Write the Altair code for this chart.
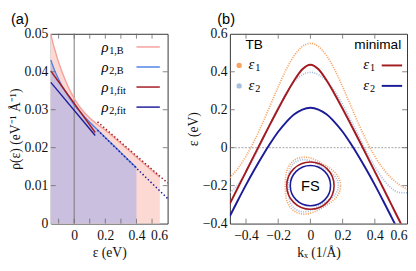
import math
import altair as alt
import pandas as pd

# ---------------- panel (a): density of states ----------------
eps_1B = [-0.15, -0.14, -0.13, -0.12, -0.11, -0.10, -0.08, -0.06, -0.04, -0.02, 0.00, 0.02,
          0.05, 0.10, 0.15, 0.20, 0.25, 0.30, 0.35, 0.40, 0.45, 0.50, 0.55]
rho_1B = [0.0500, 0.0482, 0.0466, 0.0452, 0.0438, 0.0425, 0.0402, 0.0381, 0.0362, 0.0345, 0.0330, 0.0317,
          0.0300, 0.0278, 0.0261, 0.0246, 0.0229, 0.0211, 0.0193, 0.0175, 0.0157, 0.0139, 0.0122]
eps_2B = [-0.15, -0.14, -0.13, -0.12, -0.11, -0.10, -0.08, -0.06, -0.04, -0.02, 0.00, 0.02,
          0.05, 0.10, 0.15, 0.20, 0.25, 0.30, 0.35, 0.40]
rho_2B = [0.0431, 0.0419, 0.0408, 0.0398, 0.0389, 0.0380, 0.0364, 0.0350, 0.0337, 0.0325, 0.0313, 0.0303,
          0.0289, 0.0267, 0.0247, 0.0227, 0.0207, 0.0187, 0.0167, 0.0147]
eps_fit_solid = [-0.15, 0.135]
rho_1fit_solid = [0.0402, 0.0240]
rho_2fit_solid = [0.0372, 0.0232]
eps_fit_dot = [0.15, 0.60]
rho_1fit_dot = [0.0268, 0.0107]
rho_2fit_dot = [0.0246, 0.0066]
a_zero_line = [0.0]

a_xticks = [-0.1, 0.0, 0.1, 0.2, 0.3, 0.4, 0.5]
a_xlabels = [0.0, 0.2, 0.4, 0.6]
a_yticks = [0.01, 0.02, 0.03, 0.04]
a_ylabels = [0.0, 0.01, 0.02, 0.03, 0.04, 0.05]
a_legend_subs = ["1,B", "2,B", "1,fit", "2,fit"]

# ---------------- panel (b): band structure ----------------
k_vals = [-0.50, -0.45, -0.40, -0.35, -0.30, -0.25, -0.20, -0.15, -0.10, -0.05, 0.00,
          0.05, 0.10, 0.15, 0.20, 0.25, 0.30, 0.35, 0.40, 0.45, 0.50, 0.55, 0.60]
minimal_e1 = [-0.295, -0.210, -0.126, -0.042, 0.042, 0.124, 0.205, 0.283, 0.355, 0.413, 0.437,
              0.413, 0.355, 0.283, 0.205, 0.124, 0.042, -0.042, -0.126, -0.210, -0.295, -0.380, -0.465]
minimal_e2 = [-0.360, -0.277, -0.196, -0.119, -0.046, 0.022, 0.084, 0.135, 0.176, 0.201, 0.210,
              0.201, 0.176, 0.135, 0.084, 0.022, -0.046, -0.119, -0.196, -0.277, -0.360, -0.444, -0.530]
tb_e1 = [-0.158, -0.109, -0.045, 0.033, 0.124, 0.222, 0.321, 0.412, 0.486, 0.533, 0.550,
         0.533, 0.486, 0.412, 0.321, 0.222, 0.124, 0.033, -0.045, -0.109, -0.158, -0.194, -0.219]
tb_e2 = [-0.236, -0.195, -0.128, -0.052, 0.035, 0.126, 0.212, 0.288, 0.347, 0.384, 0.397,
         0.385, 0.351, 0.298, 0.228, 0.147, 0.061, -0.023, -0.100, -0.164, -0.211, -0.236, -0.238]
b_zero_line = [0.0]
fs_k = [0.0]
fs_e = [-0.2]

b_xticks = [-0.4, -0.2, 0.0, 0.2, 0.4]
b_xlabels = [-0.4, -0.2, 0.0, 0.2, 0.4, 0.6]
b_yticks = [-0.2, 0.0, 0.2, 0.4]
b_ylabels = [-0.4, -0.2, 0.0, 0.2, 0.4, 0.6]
b_legend_subs = ["1", "2"]

# ---------------- styles ----------------
SERIF = "Liberation Serif"
SANS = "Liberation Sans"
PINK_FILL = "#fdd9d3"
PURPLE_FILL = "#cbbfe0"
PINK_LINE = "#f5a09c"
BLUE_LINE = "#4f82e8"
DARK_RED = "#a31b21"
DARK_BLUE = "#1c1c98"
ORANGE = "#f8a262"
LIGHT_BLUE = "#a9bedc"
TICK = "#666666"
WA, HA = 120, 195
WB, HB = 182, 195
TL = 5


def rounded_triangle(a, n=72):
    pts = []
    for i in range(n):
        th = 2 * math.pi * i / n
        r = (1 - a) + a * math.cos(3 * th)
        pts.append(f"{r * math.cos(th):.4f},{-r * math.sin(th):.4f}")
    return "M" + "L".join(pts) + "Z"


def one(**kw):
    return pd.DataFrame({k: [v] for k, v in kw.items()})


def ticks(vals, scale, axis, W, H, orient):
    df = pd.DataFrame({"v": vals})
    base = alt.Chart(df).mark_rule(color=TICK, strokeWidth=0.8)
    if orient == "x":
        enc = alt.X("v:Q", scale=scale, axis=axis)
        return [base.encode(x=enc, y=alt.value(H), y2=alt.value(H - TL)),
                base.encode(x=enc, y=alt.value(0), y2=alt.value(TL))]
    enc = alt.Y("v:Q", scale=scale, axis=axis)
    return [base.encode(y=enc, x=alt.value(0), x2=alt.value(TL)),
            base.encode(y=enc, x=alt.value(W), x2=alt.value(W - TL))]


# ---------------- panel (a) ----------------
xa = alt.Scale(domain=[-0.15, 0.6], nice=False, zero=False)
ya = alt.Scale(domain=[0, 0.05], nice=False, zero=False)
ax_xa = alt.Axis(values=a_xlabels, format="~g", title="ε (eV)", ticks=False, domain=False,
                 grid=False, labelPadding=5, titlePadding=4)
ax_ya = alt.Axis(values=a_ylabels, format="~g", title="ρ(ε) (eV⁻¹ Å⁻¹)", ticks=False, domain=False,
                 grid=False, labelPadding=3, titlePadding=2)


def XA(f="e"):
    return alt.X(f"{f}:Q", scale=xa, axis=ax_xa)


def YA(f="r"):
    return alt.Y(f"{f}:Q", scale=ya, axis=ax_ya)


df_1B = pd.DataFrame({"e": eps_1B, "r": rho_1B})
df_2B = pd.DataFrame({"e": eps_2B, "r": rho_2B})
df_fs = pd.DataFrame({"e": eps_fit_solid, "r1": rho_1fit_solid, "r2": rho_2fit_solid})
df_fd = pd.DataFrame({"e": eps_fit_dot, "r1": rho_1fit_dot, "r2": rho_2fit_dot})

layers_a = [
    alt.Chart(df_1B).mark_area(color=PINK_FILL, interpolate="monotone").encode(x=XA(), y=YA(), y2=alt.datum(0)),
    alt.Chart(df_2B).mark_area(color=PURPLE_FILL, interpolate="monotone").encode(x=XA(), y=YA(), y2=alt.datum(0)),
    alt.Chart(pd.DataFrame({"e": a_zero_line})).mark_rule(color="#777777", strokeWidth=1).encode(x=XA()),
    alt.Chart(df_1B).mark_line(color=PINK_LINE, strokeWidth=1.4, interpolate="monotone").encode(x=XA(), y=YA()),
    alt.Chart(df_2B).mark_line(color=BLUE_LINE, strokeWidth=1.4, interpolate="monotone").encode(x=XA(), y=YA()),
    alt.Chart(df_fs).mark_line(color=DARK_RED, strokeWidth=1.4).encode(x=XA(), y=YA("r1")),
    alt.Chart(df_fs).mark_line(color=DARK_BLUE, strokeWidth=1.4).encode(x=XA(), y=YA("r2")),
    alt.Chart(df_fd).mark_line(color=DARK_RED, strokeWidth=1.5, strokeDash=[1.5, 2.3]).encode(x=XA(), y=YA("r1")),
    alt.Chart(df_fd).mark_line(color=DARK_BLUE, strokeWidth=1.5, strokeDash=[1.5, 2.3]).encode(x=XA(), y=YA("r2")),
]
layers_a += ticks(a_xticks, xa, ax_xa, WA, HA, "x")
layers_a += ticks(a_yticks, ya, ax_ya, WA, HA, "y")

a_colors = [PINK_LINE, BLUE_LINE, DARK_RED, DARK_BLUE]
for i, (sub, col) in enumerate(zip(a_legend_subs, a_colors)):
    yy = 13.5 + 20.6 * i
    layers_a.append(alt.Chart(one(t="ρ")).mark_text(font=SERIF, fontSize=15, fontStyle="italic", align="left",
                                                     baseline="middle", color="black")
                    .encode(x=alt.value(52), y=alt.value(yy), text="t:N"))
    layers_a.append(alt.Chart(one(t=sub)).mark_text(font=SERIF, fontSize=10.5, align="left",
                                                     baseline="middle", color="black")
                    .encode(x=alt.value(60), y=alt.value(yy + 4), text="t:N"))
    layers_a.append(alt.Chart(one(t=sub)).mark_rule(color=col, strokeWidth=1.5)
                    .encode(x=alt.value(88), x2=alt.value(112), y=alt.value(yy)))
layers_a.append(alt.Chart(one(t="(a)")).mark_text(font=SANS, fontSize=15, align="left", baseline="top",
                                                   color="black")
                .encode(x=alt.value(-41), y=alt.value(-22), text="t:N"))

panel_a = alt.layer(*layers_a).properties(width=WA, height=HA)

# ---------------- panel (b) ----------------
xb = alt.Scale(domain=[-0.5, 0.6], nice=False, zero=False)
yb = alt.Scale(domain=[-0.4, 0.6], nice=False, zero=False)
ax_xb = alt.Axis(values=b_xlabels, format="~g", title="kₓ (1/Å)", ticks=False, domain=False,
                 grid=False, labelPadding=5, titlePadding=4)
ax_yb = alt.Axis(values=b_ylabels, format="~g", title="ε (eV)", ticks=False, domain=False,
                 grid=False, labelPadding=3, titlePadding=2)


def XB(f="k"):
    return alt.X(f"{f}:Q", scale=xb, axis=ax_xb)


def YB(f):
    return alt.Y(f"{f}:Q", scale=yb, axis=ax_yb)


df_b = pd.DataFrame({"k": k_vals, "m1": minimal_e1, "m2": minimal_e2, "t1": tb_e1, "t2": tb_e2})
df_fsc = pd.DataFrame({"k": fs_k, "e": fs_e})

layers_b = [
    alt.Chart(pd.DataFrame({"e": b_zero_line})).mark_rule(color="#8a8a8a", strokeWidth=0.8, strokeDash=[2, 1.5])
    .encode(y=YB("e")),
    alt.Chart(df_b).mark_line(color=ORANGE, strokeWidth=1.7, strokeDash=[1.1, 1.3], interpolate="monotone",
                              clip=True).encode(x=XB(), y=YB("t1")),
    alt.Chart(df_b).mark_line(color=LIGHT_BLUE, strokeWidth=1.7, strokeDash=[1.1, 1.3], interpolate="monotone",
                              clip=True).encode(x=XB(), y=YB("t2")),
    alt.Chart(df_b).mark_line(color=DARK_RED, strokeWidth=2, interpolate="monotone", clip=True)
    .encode(x=XB(), y=YB("m1")),
    alt.Chart(df_b).mark_line(color=DARK_BLUE, strokeWidth=2, interpolate="monotone", clip=True)
    .encode(x=XB(), y=YB("m2")),
    # Fermi surfaces
    alt.Chart(df_fsc).mark_point(shape=rounded_triangle(0.085), size=3844, filled=False, color=ORANGE,
                                 strokeWidth=1.7, strokeDash=[1.1, 1.3], opacity=1)
    .encode(x=XB(), y=YB("e")),
    alt.Chart(df_fsc).mark_point(shape=rounded_triangle(0.111), size=3295, filled=False, color=LIGHT_BLUE,
                                 strokeWidth=1.7, strokeDash=[1.1, 1.3], opacity=1)
    .encode(x=XB(), y=YB("e")),
    alt.Chart(df_fsc).mark_point(shape="circle", size=2362, filled=False, color=DARK_RED,
                                 strokeWidth=1.6, opacity=1).encode(x=XB(), y=YB("e")),
    alt.Chart(df_fsc).mark_point(shape="circle", size=1714, filled=False, color=DARK_BLUE,
                                 strokeWidth=1.6, opacity=1).encode(x=XB(), y=YB("e")),
    alt.Chart(df_fsc.assign(t="FS")).mark_text(font=SANS, fontSize=15, align="center", baseline="middle",
                                              color="black").encode(x=XB(), y=YB("e"), text="t:N"),
]
layers_b += ticks(b_xticks, xb, ax_xb, WB, HB, "x")
layers_b += ticks(b_yticks, yb, ax_yb, WB, HB, "y")

layers_b.append(alt.Chart(one(t="TB")).mark_text(font=SANS, fontSize=14, align="left", baseline="middle",
                                                  color="black").encode(x=alt.value(16), y=alt.value(12), text="t:N"))
layers_b.append(alt.Chart(one(t="minimal")).mark_text(font=SANS, fontSize=14, align="right", baseline="middle",
                                                       color="black").encode(x=alt.value(176), y=alt.value(12), text="t:N"))
for i, (sub, tcol, mcol) in enumerate(zip(b_legend_subs, [ORANGE, LIGHT_BLUE], [DARK_RED, DARK_BLUE])):
    yy = 32.5 + 21.0 * i
    layers_b.append(alt.Chart(one(t="x")).mark_point(shape="circle", size=30, filled=True, color=tcol, opacity=1)
                    .encode(x=alt.value(9.5), y=alt.value(yy)))
    for x0 in (19, 137):
        layers_b.append(alt.Chart(one(t="ε")).mark_text(font=SERIF, fontSize=15, fontStyle="italic", align="left",
                                                         baseline="middle", color="black")
                        .encode(x=alt.value(x0), y=alt.value(yy - 1), text="t:N"))
        layers_b.append(alt.Chart(one(t=sub)).mark_text(font=SERIF, fontSize=10.5, align="left",
                                                         baseline="middle", color="black")
                        .encode(x=alt.value(x0 + 7), y=alt.value(yy + 3), text="t:N"))
    layers_b.append(alt.Chart(one(t=sub)).mark_rule(color=mcol, strokeWidth=2)
                    .encode(x=alt.value(156), x2=alt.value(177), y=alt.value(yy)))
layers_b.append(alt.Chart(one(t="(b)")).mark_text(font=SANS, fontSize=15, align="left", baseline="top",
                                                   color="black")
                .encode(x=alt.value(-13), y=alt.value(-22), text="t:N"))

panel_b = alt.layer(*layers_b).properties(width=WB, height=HB)

chart = (
    alt.hconcat(panel_a, panel_b, spacing=15)
    .properties(padding=0)
    .configure_view(stroke="#333333", strokeWidth=1)
    .configure_axis(labelFont=SERIF, labelFontSize=14, labelColor="#111111",
                    titleFont=SERIF, titleFontSize=14, titleFontWeight="normal", titleColor="#111111")
)

chart.save("out.html", embed_options={"renderer": "svg", "actions": False})
